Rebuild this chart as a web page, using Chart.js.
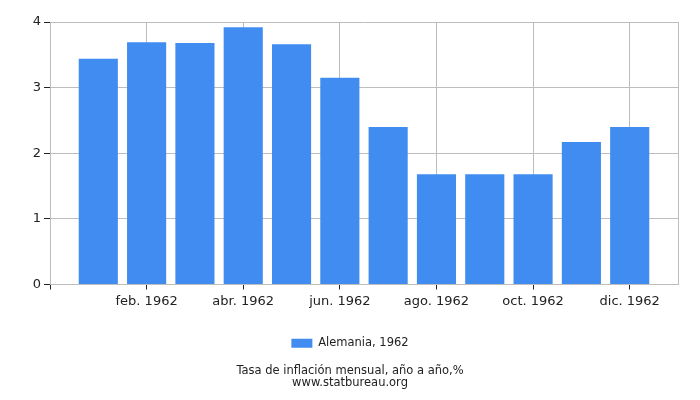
<!DOCTYPE html>
<html>
<head>
<meta charset="utf-8">
<script src="https://cdn.jsdelivr.net/npm/chart.js@4/dist/chart.umd.min.js"></script>
<style>
  html, body { margin: 0; padding: 0; background: #fff; }
  #wrap { width: 700px; height: 400px; }
</style>
</head>
<body>
<div id="wrap"><canvas id="grafico"></canvas></div>
<script>
const meses = ['ene. 1962', 'feb. 1962', 'mar. 1962', 'abr. 1962', 'may. 1962', 'jun. 1962',
  'jul. 1962', 'ago. 1962', 'sep. 1962', 'oct. 1962', 'nov. 1962', 'dic. 1962'];
const inflacion = [3.44, 3.69, 3.68, 3.92, 3.66, 3.15, 2.40, 1.68, 1.68, 1.68, 2.17, 2.40];
const serie = 'Alemania, 1962';
const titulo = ['Tasa de inflación mensual, año a año,%', 'www.statbureau.org'];
const ticksY = [0, 1, 2, 3, 4];

const fuente = { family: 'DejaVu Sans', size: 13 };
const fuentePie = { family: 'DejaVu Sans', size: 11.5 };
const gris = '#bdbdbd';

// solo se rotulan los meses pares (feb, abr, ...), más el borde izquierdo
const ticksX = [-1, 1, 3, 5, 7, 9, 11];

new Chart(document.getElementById('grafico').getContext('2d'), {
  type: 'bar',
  data: {
    datasets: [{
      label: serie,
      data: inflacion.map((v, i) => ({ x: i, y: v })),
      backgroundColor: '#418cf0',
      borderWidth: 0,
      barPercentage: 0.9,
      categoryPercentage: 0.9
    }]
  },
  options: {
    responsive: true,
    maintainAspectRatio: false,
    animation: false,
    layout: { padding: { top: 22, right: 11, left: 11, bottom: 0 } },
    scales: {
      x: {
        type: 'linear',
        min: -1,
        max: 12,
        offset: false,
        afterBuildTicks: axis => { axis.ticks = ticksX.map(v => ({ value: v })); },
        afterFit: axis => { axis.height = 34; },
        ticks: {
          autoSkip: false,
          maxRotation: 0,
          color: '#222',
          font: fuente,
          padding: 4,
          callback: v => (v >= 0 && v < meses.length) ? meses[v] : ''
        },
        grid: { offset: false, color: gris, tickLength: 5, tickColor: '#222' },
        border: { color: gris }
      },
      y: {
        min: 0,
        max: 4,
        afterBuildTicks: axis => { axis.ticks = ticksY.map(v => ({ value: v })); },
        afterFit: axis => { axis.width = 39; },
        ticks: { color: '#222', font: fuente, padding: 3 },
        grid: { color: gris, tickLength: 6, tickColor: '#222' },
        border: { color: gris }
      },
      borde: {
        type: 'linear',
        position: 'right',
        min: 0,
        max: 4,
        ticks: { display: false },
        grid: { drawOnChartArea: false, drawTicks: false },
        border: { color: gris },
        afterFit: axis => { axis.width = 11; }
      }
    },
    plugins: {
      legend: {
        position: 'bottom',
        labels: {
          boxWidth: 21,
          boxHeight: 9,
          color: '#222',
          font: fuentePie,
          padding: 19
        }
      },
      title: {
        display: true,
        position: 'bottom',
        text: titulo,
        color: '#222',
        font: { family: 'DejaVu Sans', size: 11.5, weight: 'normal', lineHeight: '12px' },
        padding: { top: 6, bottom: 11 }
      },
      tooltip: { enabled: false }
    }
  }
});
</script>
</body>
</html>
